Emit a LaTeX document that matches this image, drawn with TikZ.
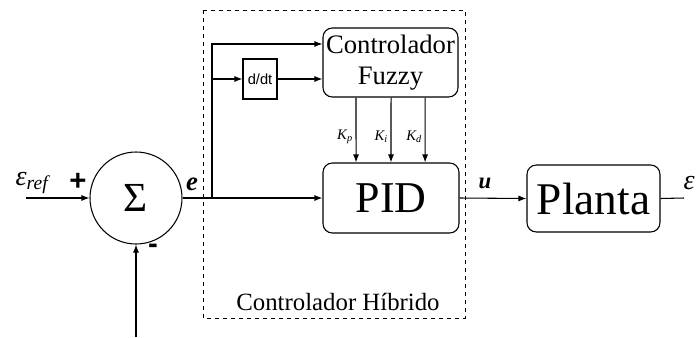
\documentclass[tikz,border=0pt]{standalone}
\usepackage{fontspec}
\setmainfont{Liberation Serif}
\newfontfamily\hsans{Liberation Sans}
\usetikzlibrary{arrows.meta}
\begin{document}
\begin{tikzpicture}[x=0.75pt,y=-0.75pt,
  line width=0.8pt,
  arr/.style={-{Latex[length=6pt,width=4.5pt]}},
  blk/.style={draw,rounded corners=7pt,align=center,inner sep=0pt},
  lbl/.style={inner sep=0pt},
  klbl/.style={pos=0.6,left=2pt,lbl,font=\rmfamily\itshape\fontsize{11}{12}\selectfont}]
\useasboundingbox (0,0) rectangle (697,337);
% sum
\node[draw,circle,minimum size=69pt,inner sep=0pt,font=\rmfamily\fontsize{31}{32}\selectfont] (sum) at (136,198) {Σ};
% hybrid dashed frame
\draw[dashed,line width=0.6pt] (203,10) rectangle (465,318);
\node[lbl,font=\rmfamily\fontsize{18.6}{20}\selectfont] (hyb) at (338,302) {Controlador Híbrido};
% blocks
\node[blk,minimum width=101.25pt,minimum height=51.75pt,font=\rmfamily\fontsize{20}{23}\selectfont] (fuzzy) at (390.5,62.5) {Controlador\\Fuzzy};
\node[blk,minimum width=102pt,minimum height=52.5pt,font=\rmfamily\fontsize{33}{36}\selectfont] (pid) at (391,198) {PID};
\node[blk,minimum width=99.75pt,minimum height=50.25pt,font=\rmfamily\fontsize{34}{36}\selectfont] (planta) at (593.5,198.5) {Planta};
\node[draw,minimum width=25.5pt,minimum height=30pt,inner sep=0pt,font=\hsans\fontsize{11}{12}\selectfont] (ddt) at (260,79) {d/dt};
% coordinates
\coordinate (br) at (212,198);
\coordinate (in) at (26,198);
\coordinate (fb) at (136,337);
\coordinate (out) at (684,198);
% labels
\node[lbl,font=\rmfamily\itshape\fontsize{21}{22}\selectfont] (eref) at (32,183) {ε\textsubscript{ref}};
\node[lbl,font=\hsans\bfseries\fontsize{22}{24}\selectfont] (plus) at (78,182) {+};
\node[lbl,font=\hsans\bfseries\fontsize{22}{24}\selectfont] (minus) at (153,249) {-};
\node[lbl,font=\rmfamily\itshape\bfseries\fontsize{20}{22}\selectfont] (elbl) at (192,184) {e};
\node[lbl,font=\rmfamily\itshape\bfseries\fontsize{17}{20}\selectfont] (ulbl) at (485,183) {u};
\node[lbl,font=\rmfamily\itshape\fontsize{21}{22}\selectfont,anchor=west] (eout) at (683,183) {ε};
% connectors
\draw[arr] (in) -- (sum.west);
\draw[arr] (fb) -- (sum.south);
\draw[arr] (sum.east) -- (pid.west);
\draw[arr] (br) |- ([yshift=13.9pt]fuzzy.west);
\draw[arr] (br |- ddt.west) -- (ddt.west);
\draw[arr] (ddt.east) -- (fuzzy.west |- ddt.east);
\draw[arr] ([xshift=-25.9pt]fuzzy.south) -- node[klbl]{K\textsubscript{p}} ([xshift=-26.2pt]pid.north);
\draw[arr] ([xshift=0.4pt]fuzzy.south) -- node[klbl]{K\textsubscript{i}} (pid.north);
\draw[arr] ([xshift=25.9pt]fuzzy.south) -- node[klbl]{K\textsubscript{d}} ([xshift=25.6pt]pid.north);
\draw[arr] (pid.east) -- (planta.west);
\draw (planta.east) -- (out);
\end{tikzpicture}
\end{document}
